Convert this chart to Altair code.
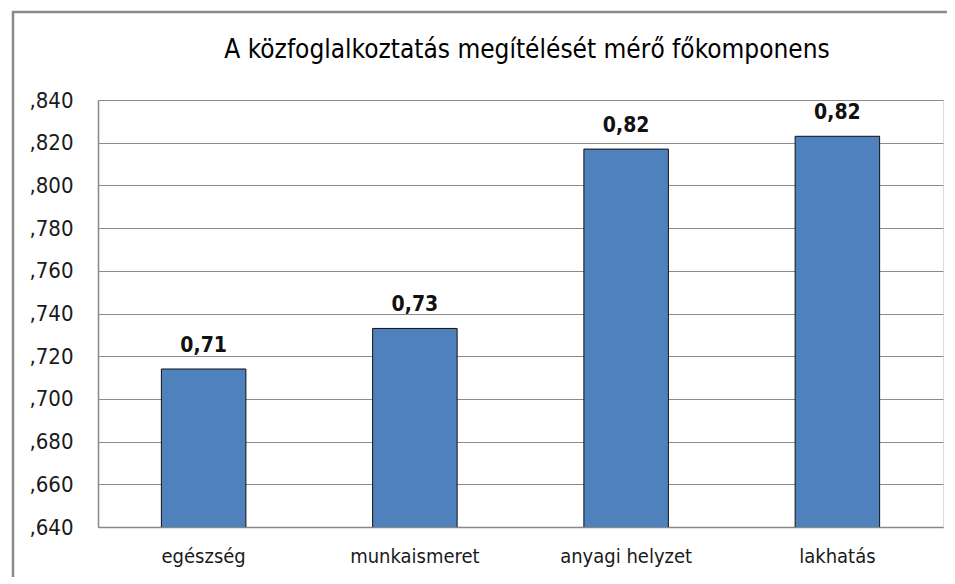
import altair as alt
import pandas as pd

categories = ["egészség", "munkaismeret", "anyagi helyzet", "lakhatás"]
values = [0.714, 0.733, 0.817, 0.823]
ticks = [0.64, 0.66, 0.68, 0.70, 0.72, 0.74, 0.76, 0.78, 0.80, 0.82, 0.84]
title_text = "A közfoglalkoztatás megítélését mérő főkomponens"

df = pd.DataFrame({"cat": categories, "val": values})

FONT = "DejaVu Sans Condensed, Liberation Sans, sans-serif"

base = alt.Chart(df)

x_enc = alt.X("cat:N", sort=categories,
              scale=alt.Scale(paddingInner=0.6, paddingOuter=0.3),
              axis=alt.Axis(title=None, labelAngle=0, labelFontSize=20, labelColor="#1a1a1a",
                            labelFont=FONT, ticks=False, domainColor="#888888", domainWidth=1.5,
                            labelPadding=19))
y_enc = alt.Y("val:Q", scale=alt.Scale(domain=[0.64, 0.84], nice=False, zero=False),
              axis=alt.Axis(title=None, values=ticks,
                            labelExpr="replace(format(datum.value, '.3f'), '0.', ',')",
                            labelFontSize=22, labelColor="#1a1a1a", labelFont=FONT,
                            labelOverlap=False, labelBound=False, labelFlush=False,
                            ticks=False, labelPadding=25, domainColor="#888888", domainWidth=1.5,
                            grid=True, gridColor="#8c8c8c", gridWidth=1))

bars = base.mark_bar(color="#4F81BD", stroke="#101010", strokeWidth=1, clip=True).encode(
    x=x_enc, y=y_enc)

labels = base.transform_calculate(
    lbl="replace(format(datum.val, '.2f'), '.', ',')"
).mark_text(dy=-23, fontSize=21, fontWeight="bold", font=FONT, color="#111111").encode(
    x=alt.X("cat:N", sort=categories), y="val:Q", text="lbl:N")

border = alt.Chart(df.head(1)).mark_rect(fill=None, stroke="#8a8a8a", strokeWidth=2.5, clip=False).encode(
    x=alt.value(-85), x2=alt.value(852), y=alt.value(-88), y2=alt.value(520))

title = alt.Chart(df.head(1)).mark_text(fontSize=26, font=FONT, color="#000000", clip=False).encode(
    x=alt.value(429), y=alt.value(-50), text=alt.value(title_text))

chart = alt.layer(border, bars, labels, title).properties(
    width=845, height=427,
    autosize=alt.AutoSizeParams(type="none"),
    padding={"left": 90, "top": 92, "right": 4, "bottom": 50},
).configure_view(stroke=None).configure(background="white")

chart.save("out.html", embed_options={"renderer": "svg", "actions": False})
